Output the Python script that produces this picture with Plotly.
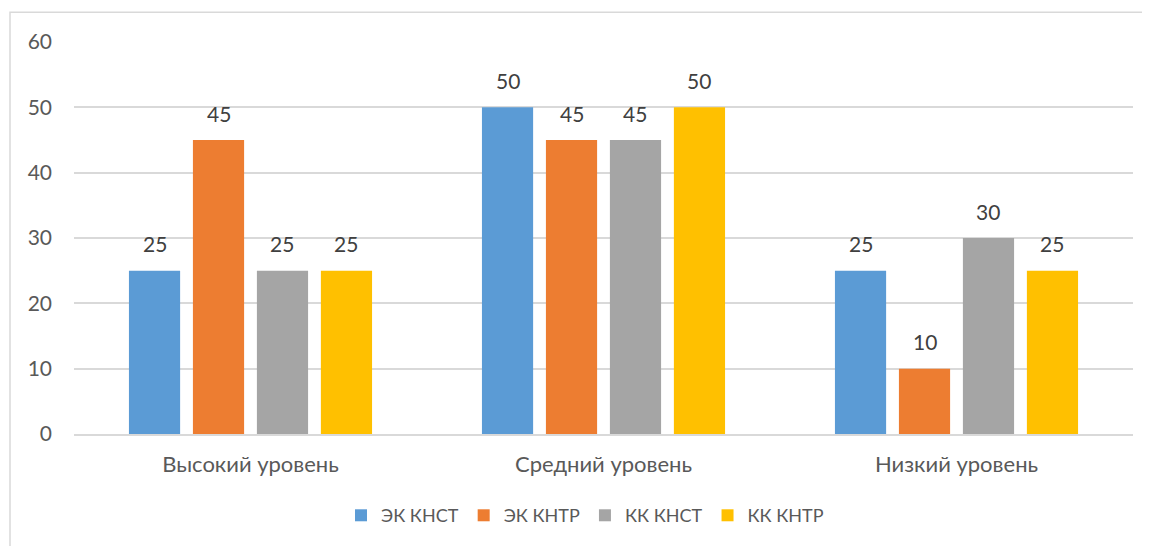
import plotly.graph_objects as go

categories = ["Высокий уровень", "Средний уровень", "Низкий уровень"]
series_names = ["ЭК КНСТ", "ЭК КНТР", "КК КНСТ", "КК КНТР"]
ek_knst = [25, 50, 25]
ek_kntr = [45, 45, 10]
kk_knst = [25, 45, 30]
kk_kntr = [25, 50, 25]
colors = ["#5B9BD5", "#ED7D31", "#A5A5A5", "#FFC000"]
y_ticks = [0, 10, 20, 30, 40, 50, 60]

OFF = 8  # page body margin
W, H = 1150 - OFF, 546 - OFF
L, R, T, B = 74 - OFF, 17, 42 - OFF, 112 - 2
pw, ph = W - L - R, H - T - B
FONT = "Lato"
BARGAP, GROUPGAP = 0.275, 0.2

fig = go.Figure()
all_vals = [ek_knst, ek_kntr, kk_knst, kk_kntr]
for name, vals, c in zip(series_names, all_vals, colors):
    fig.add_trace(go.Bar(
        x=categories, y=vals, name=name, marker=dict(color=c, line=dict(width=0)),
    ))

slot = pw / len(categories) * (1 - BARGAP) / len(series_names)
for i, vals in enumerate(all_vals):
    for cat, v in zip(categories, vals):
        fig.add_annotation(x=cat, y=v, text=str(v), showarrow=False,
                           xshift=(i - 1.5) * slot, yshift=27, yanchor="middle",
                           font=dict(family=FONT, size=21, color="#404040"))

fig.update_layout(
    width=W, height=H,
    margin=dict(l=L, r=R, t=T, b=B),
    paper_bgcolor="white", plot_bgcolor="white",
    barmode="group", bargap=BARGAP, bargroupgap=GROUPGAP,
    font=dict(family=FONT, color="#595959", size=20),
    xaxis=dict(showgrid=False, showline=True, linecolor="#d9d9d9", linewidth=1.5,
               ticks="", tickfont=dict(size=22, color="#595959"), ticklabelstandoff=10),
    yaxis=dict(range=[0, 60], tickvals=y_ticks, showgrid=True, gridcolor="#d9d9d9",
               gridwidth=1.5, zeroline=False, showline=False, ticks="",
               tickfont=dict(size=21, color="#595959"), ticklabelstandoff=21),
    legend=dict(orientation="h", x=(585 - OFF - L) / pw, xanchor="center",
                y=(T + ph - (518 - OFF)) / ph,
                yanchor="middle", font=dict(size=18, color="#595959"),
                itemwidth=30, tracegroupgap=0, traceorder="normal"),
    showlegend=True,
)

fig.add_shape(type="rect", xref="paper", yref="paper",
              x0=(10 - OFF - L) / pw, x1=1.2, y0=-0.6, y1=(T + ph - (12 - OFF)) / ph,
              line=dict(color="#d9d9d9", width=1.5), fillcolor="rgba(0,0,0,0)", layer="below")

fig.write_html("out.html")
